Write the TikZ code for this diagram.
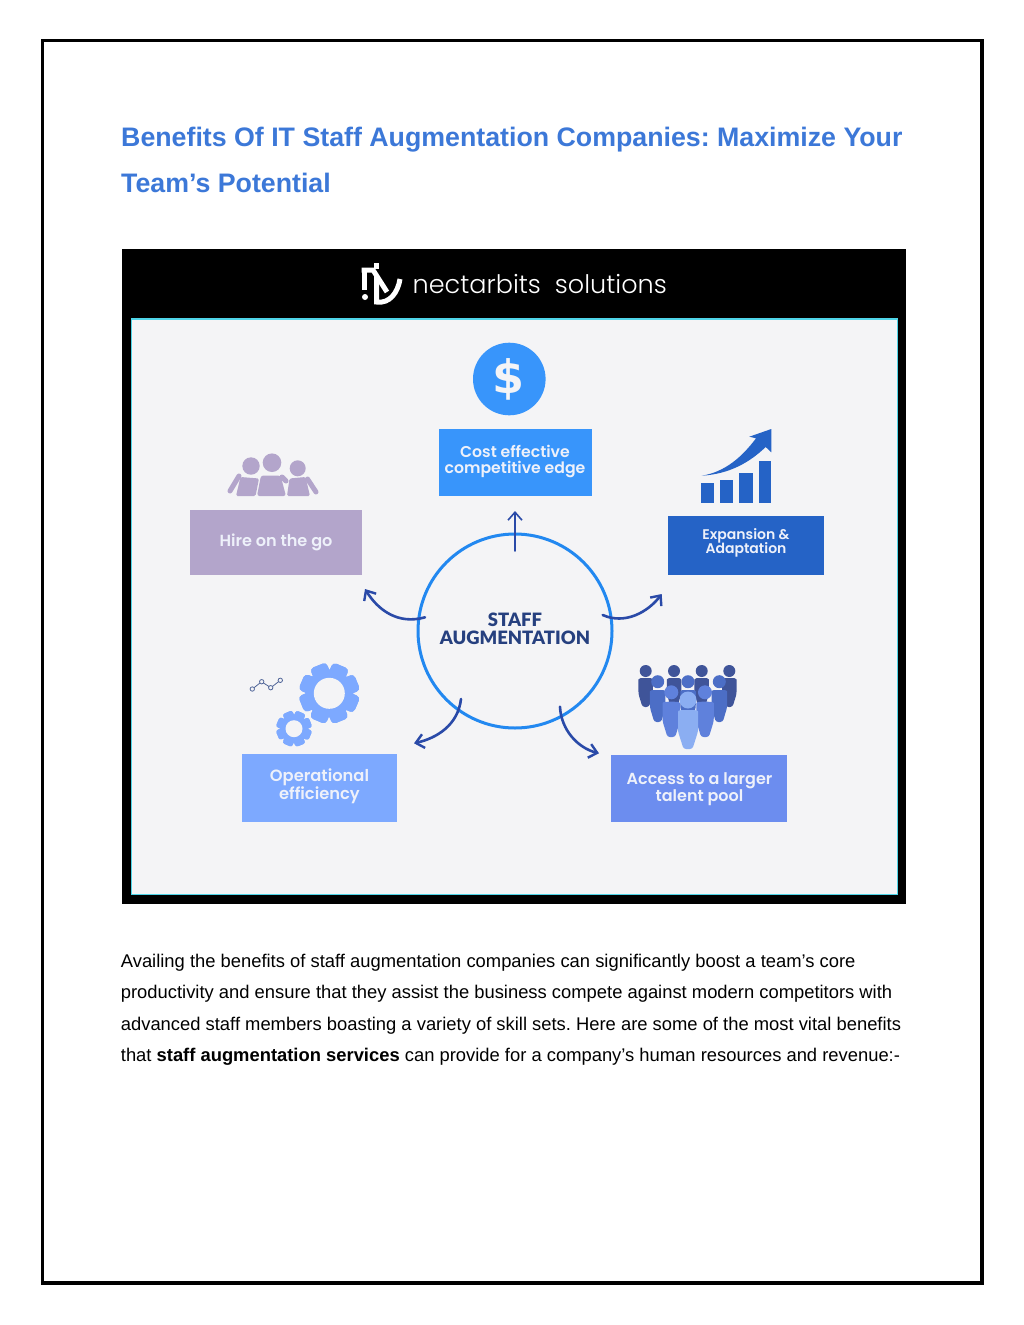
\documentclass[tikz,border=0pt]{standalone}
\usepackage{fontspec}
\setmainfont{Liberation Sans}
\newfontfamily\labelfont{Poppins SemiBold}
\newfontfamily\logofont{Poppins Light}
\newfontfamily\hubfont{Lato Black}
\newfontfamily\dollarfont{DejaVu Sans}
\usetikzlibrary{arrows.meta}
\definecolor{pagetitle}{HTML}{3C78D8}
\definecolor{panelbg}{HTML}{F4F4F6}
\definecolor{panelcyan}{HTML}{4FD5E8}
\definecolor{costblue}{HTML}{3895FB}
\definecolor{hirelav}{HTML}{B3A5CB}
\definecolor{expblue}{HTML}{2563C6}
\definecolor{opblue}{HTML}{7DA9FF}
\definecolor{talentblue}{HTML}{6C8DEF}
\definecolor{ringblue}{HTML}{2288F0}
\definecolor{arrowblue}{HTML}{2A4AA8}
\definecolor{hubtext}{HTML}{26407F}
\definecolor{labeltxt}{HTML}{EEF1FA}
\definecolor{pplA}{HTML}{3F5499}
\definecolor{pplB}{HTML}{4C6EC6}
\definecolor{pplC}{HTML}{5F81DC}
\definecolor{pplD}{HTML}{8BAEF2}
\frenchspacing
\tikzset{
  x=1pt,y=-1pt,
  bodytext/.style={anchor=base west,inner sep=0pt,font=\fontsize{18.38}{20}\selectfont,text=black},
  titletext/.style={anchor=base west,inner sep=0pt,font=\fontsize{26.75}{30}\selectfont\bfseries,text=pagetitle},
  lab/.style={inner sep=0pt,align=center,text=labeltxt,font=\labelfont\fontsize{#1}{16}\selectfont},
  flow/.style={draw=arrowblue,line width=2.6pt,line cap=round,-{Straight Barb[length=8pt,width=14pt,line width=2.4pt]}},
}
\newcommand{\person}[7]{% colour, cx, headcy, r, w, top, bottom
  \fill[#1] (#2,#3) circle[radius=#4];
  \fill[#1,rounded corners=2.5pt] ({#2-#5/2},{#6+4}) .. controls ({#2-#5/2},#6) and ({#2-#5/4},#6) .. (#2,#6)
     .. controls ({#2+#5/4},#6) and ({#2+#5/2},#6) .. ({#2+#5/2},{#6+4})
     -- ({#2+#5/2},{#6+(#7-#6)*0.55}) -- ({#2+#5/4.5},#7) -- ({#2-#5/4.5},#7) -- ({#2-#5/2},{#6+(#7-#6)*0.55}) -- cycle;
}
\newcommand{\gear}[4]{% cx,cy,outer,inner
  \foreach \a in {0,45,...,315}{
    \fill[opblue,rotate around={\a+22:(#1,#2)},rounded corners=#3*0.13]
      ({#1-#3*0.29},{#2-#3}) rectangle ({#1+#3*0.29},{#2+#3});
  }
  \fill[opblue] (#1,#2) circle[radius=#3*0.8];
  \fill[panelbg] (#1,#2) circle[radius=#4];
}
\begin{document}
\begin{tikzpicture}
\useasboundingbox (0,0) rectangle (1024,1325);
\fill[white] (0,0) rectangle (1024,1325);
\draw[black,line width=3.5pt] (42.5,40.5) rectangle (982,1283);
% titles
\node[titletext] (t1) at (121,146) {Benefits Of IT Staff Augmentation Companies: Maximize Your};
\node[titletext] (t2) at (121,192) {Team’s Potential};
% image
\fill[black] (122,249) rectangle (906,904);
\fill[panelbg,draw=panelcyan,line width=1.5pt] (131.5,319) rectangle (897.5,894.5);
% logo
\begin{scope}[white]
\fill (365,297) circle[radius=3];
\draw[line width=5pt] (364,268) -- (364,290);
\draw[line width=5pt] (361.5,270) -- (373,270) -- (387,292);
\fill (374,263) rectangle (379,269);
\draw[line width=5pt] (376.5,276) -- (376.5,302) .. controls (390,304) and (398,292) .. (400,279);
\end{scope}
\node[anchor=base west,inner sep=0pt,text=white,font=\logofont\fontsize{25.5}{30}\selectfont] (logo) at (412.5,293.5) {nectarbits\hspace{14pt}solutions};
% ring
\node[circle,draw=ringblue,line width=3pt,minimum size=194pt,inner sep=0pt,outer sep=0pt] (hub) at (515,631) {};
\node[inner sep=0pt,align=center,text=hubtext,font=\hubfont\fontsize{18.4}{18}\selectfont] (hubt) at (515,629) {STAFF\\AUGMENTATION};
% boxes
\fill[costblue] (439,429) rectangle (591.5,496);
\node[lab=15.7] (cost) at (515,461) {Cost effective\\competitive edge};
\fill[hirelav] (190,509.5) rectangle (361.7,575);
\node[lab=16.1] (hire) at (276,542) {Hire on the go};
\fill[expblue] (668,515.5) rectangle (824,575);
\node[lab=14] (exp) at (746,542.5) {Expansion \&\\[-2pt]Adaptation};
\fill[opblue] (241.7,753.5) rectangle (396.7,821.7);
\node[lab=16.3] (op) at (319.5,786) {Operational\\efficiency};
\fill[talentblue] (611,754.5) rectangle (787.3,821.7);
\node[lab=16] (tal) at (699.5,789) {Access to a larger\\talent pool};
% dollar
\fill[costblue] (509.3,379) circle[radius=36.3];
\node[inner sep=0pt,text=panelbg,font=\dollarfont\bfseries\fontsize{46}{46}\selectfont] (dollar) at (508,379) {\$};
% hire icon
\fill[hirelav] (251,466) circle[radius=8.7];
\fill[hirelav] (272,462.7) circle[radius=9.3];
\fill[hirelav] (297.7,468.3) circle[radius=8];
\fill[hirelav,rounded corners=1.5pt] (240.5,477) -- (259,478.5) -- (255.5,496) -- (236,496) -- cycle;
\fill[hirelav,rounded corners=2.5pt] (261,475.5) -- (280.5,475.5) -- (286,496) -- (257,496) -- cycle;
\fill[hirelav,rounded corners=1.5pt] (289.5,478.5) -- (305.5,477) -- (310,496) -- (287,496) -- cycle;
\draw[hirelav,line width=5pt,line cap=round] (239,476) -- (230,491);
\draw[hirelav,line width=5pt,line cap=round] (307.5,479) -- (316,492);
\draw[hirelav,line width=5pt,line cap=round] (282,477) -- (286,481);
% chart icon
\fill[expblue] (701.3,482.7) rectangle (714,502.7);
\fill[expblue] (720.3,480) rectangle (733.3,502.7);
\fill[expblue] (739.3,472.7) rectangle (752.7,502.7);
\fill[expblue] (759.3,461) rectangle (771.3,502.7);
\fill[expblue] (701.7,475.7) .. controls (725,472) and (742,457) .. (756,438.3) -- (749.3,436.7) -- (771.3,429) -- (771.3,452.3) -- (765.7,447) .. controls (750,462) and (730,474) .. cycle;
% gears
\gear{329.3}{693.3}{30}{15.5}
\gear{294}{728.7}{17.7}{8.5}
\draw[draw=hubtext!80,line width=0.8pt,fill=panelbg]
  (252.3,689) circle[radius=2.2] (261.7,681.7) circle[radius=2.2] (270.7,687.7) circle[radius=2.2] (280.3,680.3) circle[radius=2.2];
\draw[hubtext!80,line width=0.8pt] (254,687.7) -- (260,683) (263.5,683) -- (269,686.5) (272.5,686.4) -- (278.5,681.7);
% people
\person{pplA}{645.7}{671}{6}{14.5}{678}{707}
\person{pplA}{674}{671}{6}{14.5}{678}{707}
\person{pplA}{701.7}{671}{6}{14.5}{678}{707}
\person{pplA}{729.3}{671}{6}{14.5}{678}{707}
\person{pplB}{657.7}{681.7}{6.5}{15.5}{690}{722}
\person{pplB}{688}{681.7}{6.5}{15.5}{690}{722}
\person{pplB}{719.3}{681.7}{6.5}{15.5}{690}{722}
\person{pplC}{671.3}{692.3}{7}{17.5}{701.7}{737}
\person{pplC}{705}{692.3}{7}{17.5}{701.7}{737}
\person{pplD}{688}{700}{8.5}{20}{710}{749}
% arrows
\coordinate (aTop0) at (515,551); \coordinate (aTop1) at (515,511);
\coordinate (aHire0) at (425,617.3); \coordinate (aHire1) at (365,589);
\coordinate (aExp0) at (602.7,615); \coordinate (aExp1) at (661.7,594);
\coordinate (aOp0) at (461,699); \coordinate (aOp1) at (414,743.3);
\coordinate (aTal0) at (560,706.7); \coordinate (aTal1) at (599,753.3);
\draw[flow,line width=1.6pt,{-{Straight Barb[length=8pt,width=14pt,line width=1.6pt]}}] (aTop0) -- (aTop1);
\draw[flow] (aHire0) .. controls (398,625) and (378,610) .. (aHire1);
\draw[flow] (aExp0) .. controls (625,625) and (648,612) .. (aExp1);
\draw[flow] (aOp0) .. controls (458,725) and (437,738) .. (aOp1);
\draw[flow] (aTal0) .. controls (561,730) and (578,748) .. (aTal1);
% body
\node[bodytext] (b1) at (120.7,967) {Availing the benefits of staff augmentation companies can significantly boost a team’s core};
\node[bodytext] (b2) at (120.7,998.5) {productivity and ensure that they assist the business compete against modern competitors with};
\node[bodytext] (b3) at (120.7,1030) {advanced staff members boasting a variety of skill sets. Here are some of the most vital benefits};
\node[bodytext] (b4) at (120.7,1061.5) {that \textbf{staff augmentation services} can provide for a company\symbol{39}s human resources and revenue:-};
\end{tikzpicture}
\end{document}
